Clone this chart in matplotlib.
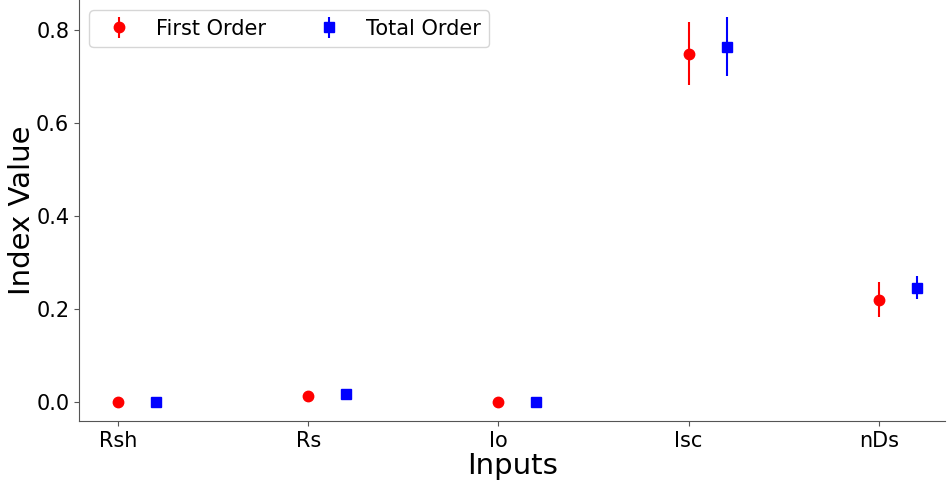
import matplotlib
matplotlib.use("Agg")
import matplotlib.pyplot as plt
import numpy as np

categories = ["Rsh", "Rs", "Io", "Isc", "nDs"]
first_order = [0.0, 0.013, 0.0, 0.748, 0.220]
first_err_low = [0.0, 0.0, 0.0, 0.067, 0.037]
first_err_high = [0.0, 0.0, 0.0, 0.068, 0.037]
total_order = [0.0, 0.018, 0.0, 0.763, 0.245]
total_err_low = [0.0, 0.0, 0.0, 0.063, 0.024]
total_err_high = [0.0, 0.0, 0.0, 0.064, 0.025]

fig = plt.figure(figsize=(9.47, 4.82), dpi=100)
ax = fig.add_axes([0.0834, 0.1266, 0.915, 0.8734])

x = np.arange(len(categories))
ax.errorbar(x, first_order, yerr=[first_err_low, first_err_high], fmt="o",
            color="red", markersize=7.5, elinewidth=1.5, label="First Order")
ax.errorbar(x + 0.2, total_order, yerr=[total_err_low, total_err_high], fmt="s",
            color="blue", markersize=7.5, elinewidth=1.5, label="Total Order")

ax.set_xticks(x)
ax.set_xticklabels(categories)
ax.set_xlim(-0.205, 4.35)
ax.set_ylim(-0.041, 0.864)
ax.set_yticks([0.0, 0.2, 0.4, 0.6, 0.8])
ax.tick_params(labelsize=15, color="#555555")
ax.set_xlabel("Inputs", fontsize=21, labelpad=1)
ax.set_ylabel("Index Value", fontsize=21, labelpad=0)
for s in ["top", "right"]:
    ax.spines[s].set_visible(False)
for s in ["left", "bottom"]:
    ax.spines[s].set_color("#555555")
ax.legend(loc="upper left", ncol=2, fontsize=15)

fig.savefig("out.png", dpi=100)
